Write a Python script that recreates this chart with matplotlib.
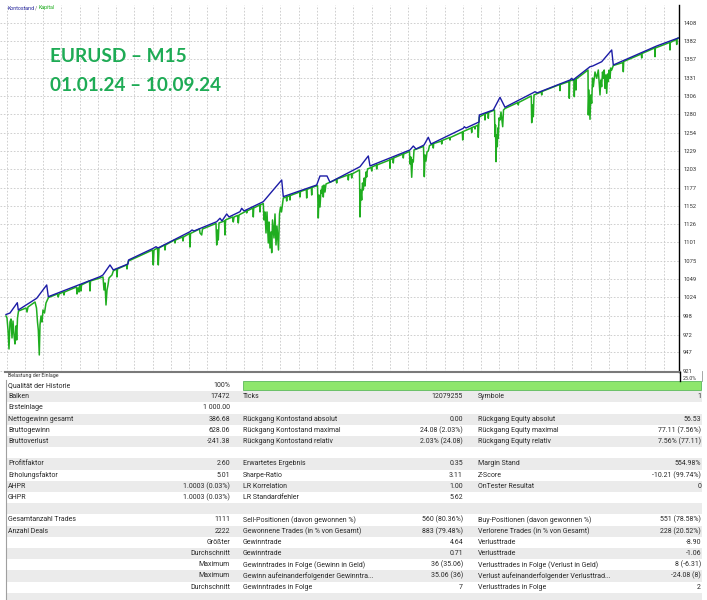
import numpy as np
import matplotlib.pyplot as plt
from matplotlib.patches import Rectangle
from matplotlib.lines import Line2D

# balance curve (Kontostand): step along the test, account value
balance_step = [0, 4, 11.3, 12.3, 30.7, 40.7, 42.3, 94, 97, 104, 107.3, 122, 122.5,
                147.3, 150, 152, 184, 186, 188, 210.7, 214, 216, 220.7, 223, 234, 235.7,
                238, 257.3, 275.7, 277.3, 310.7, 314, 321, 324, 354, 362.3, 364, 404,
                407.3, 410, 418, 422.3, 425, 457.3, 458.3, 460, 473, 473.3, 487.3, 494,
                499, 527.3, 529, 531, 564, 565.7, 567, 584, 586.7, 595.7, 605.7, 607.3,
                650.7, 672.3]
balance_value = [1000.0, 1002.1, 1016.5, 1006.3, 1022.7, 1041.3, 1024.9, 1052.9, 1055.3,
                 1069.3, 1062.3, 1070.6, 1076.2, 1092.6, 1094.8, 1093.0, 1115.8, 1118.2,
                 1116.8, 1129.8, 1134.6, 1130.8, 1140.6, 1136.4, 1143.8, 1148.5, 1144.8,
                 1157.8, 1188.1, 1164.8, 1181.1, 1193.7, 1193.7, 1184.9, 1206.7, 1221.7,
                 1207.7, 1230.1, 1235.6, 1231.4, 1237.0, 1247.8, 1238.4, 1260.4, 1262.6,
                 1260.8, 1269.2, 1279.0, 1286.0, 1303.7, 1289.8, 1310.2, 1311.6, 1309.8,
                 1327.9, 1330.3, 1327.9, 1346.5, 1347.5, 1353.5, 1369.9, 1348.9, 1375.5,
                 1386.7]

# equity curve (Kapital) as (step, value)
equity_pts = [
    (0, 997.9), (1, 995.1), (2, 978.4), (3, 951.8), (4, 989.5), (5, 993.7), (6, 967.2),
    (7, 990.9), (8, 971.4), (9, 958.8), (10, 984.0), (10.7, 964.4), (11.5, 995.1),
    (12.5, 1004.9), (20, 1009.1), (21, 1003.5), (22, 1010.5), (29, 1017.5), (30.5, 1009.1),
    (31.5, 989.5), (32.3, 978.4), (33.3, 943.4), (34, 985.4), (35, 997.9), (36, 989.5),
    (37, 1006.3), (38.5, 1002.1), (40, 1016.1), (42.5, 1023.8), (51.5, 1028.7),
    (52.3, 1024.5), (53, 1028.7), (57.5, 1031.5), (58, 1027.3), (58.5, 1031.5),
    (70.5, 1038.5), (71, 1028.7), (72, 1037.1), (73, 1031.5), (73.5, 1039.9),
    (74.5, 1041.3), (75, 1032.9), (75.5, 1041.3), (83.5, 1046.9), (84, 1032.9),
    (84.5, 1046.9), (97, 1052.5), (98, 1034.3), (99, 1044.1), (100, 1013.3),
    (101, 1034.3), (102, 1041.3), (103, 1051.1), (106, 1055.3), (107.3, 1060.9),
    (110.5, 1063.7), (111, 1052.5), (111.5, 1063.7), (120.5, 1069.3), (121, 1063.7),
    (121.5, 1070.6), (122.5, 1074.8), (146.5, 1090.2), (147.3, 1069.3), (148, 1090.2),
    (151.5, 1093.0), (152.3, 1069.3), (153, 1093.0), (158.5, 1097.2), (159, 1090.2),
    (159.5, 1097.2), (168.5, 1104.2), (169, 1100.0), (169.5, 1104.2), (176.5, 1108.4),
    (177, 1102.8), (177.5, 1108.4), (183.5, 1113.3), (184, 1094.4), (184.5, 1113.3),
    (193.5, 1119.6), (194, 1114.0), (195.7, 1111.2), (196.5, 1119.6), (210, 1127.3),
    (210.7, 1097.2), (211.5, 1118.2), (212.3, 1104.2), (213, 1128.0), (218.5, 1130.8),
    (219, 1111.2), (219.5, 1132.2), (226.5, 1136.4), (227.3, 1129.4), (228, 1136.4),
    (231.5, 1138.5), (232.3, 1128.0), (233, 1139.2), (240.5, 1144.8), (240.7, 1142.0),
    (241, 1144.8), (247, 1148.9), (247.3, 1136.4), (247.7, 1148.9), (253.7, 1153.1),
    (254, 1143.4), (254.3, 1153.1), (257.3, 1155.2), (258, 1132.2), (259, 1143.4),
    (260, 1114.0), (261, 1143.4), (262.3, 1100.0), (263, 1129.4), (264, 1093.0),
    (265, 1115.4), (265.7, 1086.4), (266.5, 1132.2), (268, 1107.0), (269, 1140.6),
    (270, 1097.2), (271, 1123.8), (272, 1100.0), (272.5, 1090.2), (273.5, 1140.6),
    (274.5, 1150.3), (275.5, 1143.4), (277.3, 1162.9), (280.3, 1164.3), (280.7, 1158.7),
    (281, 1164.3), (283.7, 1166.4), (284, 1160.1), (284.3, 1166.4), (293.7, 1171.3),
    (294, 1164.3), (294.5, 1172.0), (300.3, 1174.8), (300.7, 1162.9), (301, 1174.8),
    (305.3, 1177.6), (305.7, 1167.1), (306, 1177.6), (311.5, 1180.4), (312.3, 1135.0),
    (313, 1167.1), (314, 1150.3), (315, 1174.1), (315.7, 1169.9), (316.5, 1179.7),
    (317.3, 1164.3), (318, 1181.1), (319, 1171.3), (320, 1182.5), (330.3, 1188.8),
    (330.7, 1183.9), (331, 1189.5), (342, 1195.1), (342.3, 1188.1), (342.7, 1195.1),
    (345.3, 1196.5), (345.7, 1190.9), (346, 1196.5), (353.5, 1202.1), (354, 1136.4),
    (354.8, 1174.1), (355.7, 1160.1), (356.5, 1183.9), (357.3, 1174.1), (358.2, 1190.9),
    (359, 1179.7), (360, 1199.3), (360.7, 1192.3), (361.5, 1203.5), (365.3, 1205.6),
    (365.7, 1200.7), (366, 1206.3), (370.3, 1209.1), (370.7, 1203.5), (371, 1209.1),
    (383.7, 1216.1), (384, 1204.5), (384.3, 1216.8), (387, 1218.2), (387.3, 1211.9),
    (387.7, 1218.9), (397, 1224.5), (397.3, 1218.9), (397.7, 1224.5), (403.5, 1228.0),
    (404, 1210.5), (404.8, 1220.3), (405.7, 1191.9), (406.5, 1216.1), (407.3, 1213.3),
    (408, 1230.1), (417.5, 1235.0), (418.3, 1192.7), (419, 1223.1), (420, 1214.7),
    (421, 1227.3), (422.3, 1228.7), (423.5, 1236.3), (427, 1238.4), (427.3, 1232.8),
    (427.7, 1239.1), (435.5, 1242.6), (435.7, 1238.4), (436, 1243.3), (443.7, 1247.5),
    (444, 1244.0), (444.3, 1247.5), (456.3, 1255.2), (456.7, 1244.0), (457.2, 1255.9),
    (465.3, 1260.8), (465.7, 1254.5), (466, 1261.5), (468.7, 1262.9), (469, 1259.4),
    (469.3, 1262.9), (471.8, 1265.0), (472.3, 1247.8), (472.8, 1266.4), (473.3, 1276.2),
    (478.7, 1280.4), (479, 1272.0), (479.3, 1280.4), (482, 1282.5), (482.3, 1274.4),
    (482.7, 1282.5), (488.5, 1286.0), (489, 1248.7), (489.5, 1265.0), (490, 1213.7),
    (490.7, 1251.0), (491.3, 1234.7), (491.8, 1260.8), (492.3, 1246.4), (493, 1274.8),
    (494, 1272.0), (495, 1283.2), (496.7, 1262.6), (497.5, 1286.0), (499, 1288.1),
    (512, 1296.5), (512.3, 1293.0), (512.7, 1296.5), (525.3, 1305.6), (525.7, 1268.2),
    (526.5, 1293.0), (527.3, 1276.6), (528, 1307.0), (535.3, 1311.2), (535.7, 1307.0),
    (536, 1311.9), (553.7, 1321.6), (554, 1313.0), (554.3, 1321.6), (563, 1325.8),
    (563.3, 1302.3), (563.7, 1326.5), (568, 1328.6), (568.3, 1304.6), (568.7, 1328.6),
    (569.7, 1329.3), (570, 1313.9), (570.3, 1329.3), (582, 1341.9), (582.3, 1279.0),
    (583, 1313.9), (584, 1273.0), (584.8, 1307.0), (585.7, 1295.4), (586.5, 1330.7),
    (587.3, 1318.6), (589, 1339.1), (590.7, 1330.3), (592.3, 1341.9), (594, 1307.0),
    (594.8, 1327.9), (595.7, 1318.6), (596.5, 1339.1), (597.3, 1330.3), (598.2, 1341.9),
    (599, 1316.3), (599.8, 1334.9), (600.7, 1309.3), (601.5, 1336.3), (602.3, 1325.6),
    (603.2, 1341.9), (604, 1330.3), (604.8, 1344.7), (605.7, 1341.9), (607.3, 1348.2),
    (617, 1352.4), (617.3, 1339.5), (617.7, 1353.8), (635.3, 1364.3), (635.7, 1358.7),
    (636, 1365.0), (648.7, 1372.7), (649, 1360.5), (649.3, 1372.7), (663.7, 1380.4),
    (664, 1369.9), (664.3, 1380.4), (670.3, 1384.6), (670.7, 1377.6), (671, 1385.3),
    (672.3, 1386.7),
]

y_ticks = [921, 947, 972, 998, 1024, 1049, 1075, 1101, 1126, 1152, 1177, 1203, 1229,
           1254, 1280, 1306, 1331, 1357, 1382, 1408]

# report table
left_labels = ["Qualität der Historie", "Balken", "Ersteinlage", "Nettogewinn gesamt",
               "Bruttogewinn", "Bruttoverlust", "", "Profitfaktor", "Erholungsfaktor",
               "AHPR", "GHPR", "", "Gesamtanzahl Trades", "Anzahl Deals", "", "", "", "", ""]
left_values = ["100%", "17472", "1 000.00", "386.68", "628.06", "-241.38", "", "2.60",
               "5.01", "1.0003 (0.03%)", "1.0003 (0.03%)", "", "1111", "2222", "Größter",
               "Durchschnitt", "Maximum", "Maximum", "Durchschnitt"]
mid_labels = ["", "Ticks", "", "Rückgang Kontostand absolut", "Rückgang Kontostand maximal",
              "Rückgang Kontostand relativ", "", "Erwartetes Ergebnis", "Sharpe-Ratio",
              "LR Korrelation", "LR Standardfehler", "", "Sell-Positionen (davon gewonnen %)",
              "Gewonnene Trades (in % von Gesamt)", "Gewinntrade", "Gewinntrade",
              "Gewinntrades in Folge (Gewinn in Geld)",
              "Gewinn aufeinanderfolgender Gewinntra...", "Gewinntrades in Folge"]
mid_values = ["", "12079255", "", "0.00", "24.08 (2.03%)", "2.03% (24.08)", "", "0.35",
              "3.11", "1.00", "5.62", "", "560 (80.36%)", "883 (79.48%)", "4.64", "0.71",
              "36 (35.06)", "35.06 (36)", "7"]
right_labels = ["", "Symbole", "", "Rückgang Equity absolut", "Rückgang Equity maximal",
                "Rückgang Equity relativ", "", "Margin Stand", "Z-Score", "OnTester Resultat",
                "", "", "Buy-Positionen (davon gewonnen %)", "Verlorene Trades (in % von Gesamt)",
                "Verlusttrade", "Verlusttrade", "Verlusttrades in Folge (Verlust in Geld)",
                "Verlust aufeinanderfolgender Verlusttrad...", "Verlusttrades in Folge"]
right_values = ["", "1", "", "56.53", "77.11 (7.56%)", "7.56% (77.11)", "", "554.98%",
                "-10.21 (99.74%)", "0", "", "", "551 (78.58%)", "228 (20.52%)", "-8.90",
                "-1.06", "8 (-6.31)", "-24.08 (8)", "2"]

W, H = 707, 600


def fx(x):
    return x / W


def fy(y):
    return 1 - y / H


fig = plt.figure(figsize=(W / 100, H / 100), dpi=100)
fig.patch.set_facecolor('white')

# chart
ax = fig.add_axes([0, fy(372), fx(679), (372 - 5) / H])
eq_x = [p[0] for p in equity_pts]
eq_y = [p[1] for p in equity_pts]
ax.plot(eq_x, eq_y, color='#1fad1f', lw=1.1, zorder=3)
ax.plot(balance_step, balance_value, color='#1c1ca6', lw=1.0, zorder=4)
ax.set_xlim(-6, 673)
ax.set_ylim(919.6, 1432.8)
ax.set_yticks(y_ticks)
ax.yaxis.tick_right()
ax.tick_params(axis='y', length=0, pad=3, labelsize=4.2, labelcolor='#333333')
for lab in ax.get_yticklabels():
    lab.set_family('Roboto')
ax.set_xticks(np.arange(0.7, 673, 18.25))
ax.tick_params(axis='x', length=0, labelbottom=False)
ax.grid(True, color='#c8c8c8', ls=(0, (2, 2)), lw=0.6)
for s in ['left', 'top', 'bottom']:
    ax.spines[s].set_visible(False)
ax.spines['right'].set_color('black')
ax.spines['right'].set_linewidth(1.0)

fig.add_artist(Line2D([fx(5), fx(680)], [fy(371.5)] * 2, color='#7a7a7a', lw=1.5))
fig.add_artist(Line2D([fx(679.5)] * 2, [fy(372), fy(381)], color='black', lw=1.0))
fig.add_artist(Line2D([fx(702)] * 2, [fy(371), fy(381)], color='#999999', lw=0.6))

fig.text(fx(8), fy(376), "Belastung der Einlage", fontsize=3.8, family='Roboto',
         color='#333333', va='center')
fig.text(fx(683), fy(378), "25.0%", fontsize=3.8, family='Roboto', color='#333333',
         va='center')

# legend
fig.text(fx(8), fy(8), "Kontostand", fontsize=3.8, family='Roboto', color='#22229a',
         va='center')
fig.text(fx(35), fy(8), "/", fontsize=3.8, family='Roboto', color='#666666', va='center')
fig.text(fx(39), fy(8), "Kapital", fontsize=3.8, family='Roboto', color='#1fad1f',
         va='center')

# title
fig.text(fx(50), fy(57), "EURUSD – M15", fontsize=13.7, fontweight='bold', family='Lato',
         color='#1eab55', va='center')
fig.text(fx(50), fy(85.5), "01.01.24 – 10.09.24", fontsize=13.7, fontweight='bold',
         family='Lato', color='#1eab55', va='center')

# table
row_h = 11.2
row_y = [385.5 + row_h * i for i in range(20)]
for i, y in enumerate(row_y):
    if i % 2 == 1:
        fig.add_artist(Rectangle((fx(6), fy(y + row_h / 2)), fx(702) - fx(6), row_h / H,
                                 facecolor='#ebebeb', edgecolor='none'))
fig.add_artist(Line2D([fx(5.5)] * 2, [fy(380), fy(600)], color='#a0a0a0', lw=0.8))
fig.add_artist(Rectangle((fx(243), fy(row_y[0] + 4.3)), fx(701) - fx(243), 8.6 / H,
                         facecolor='#8ee66c', edgecolor='#5cb85c', lw=0.6))

fs = 5.0
tkw = dict(fontsize=fs, family='Roboto', color='#2a2a2a', va='center')
for i in range(len(left_labels)):
    y = fy(row_y[i])
    fig.text(fx(8), y, left_labels[i], ha='left', **tkw)
    fig.text(fx(230), y, left_values[i], ha='right', **tkw)
    fig.text(fx(243), y, mid_labels[i], ha='left', **tkw)
    fig.text(fx(463), y, mid_values[i], ha='right', **tkw)
    fig.text(fx(478), y, right_labels[i], ha='left', **tkw)
    fig.text(fx(701), y, right_values[i], ha='right', **tkw)

fig.savefig('out.png', dpi=100, facecolor='white')
